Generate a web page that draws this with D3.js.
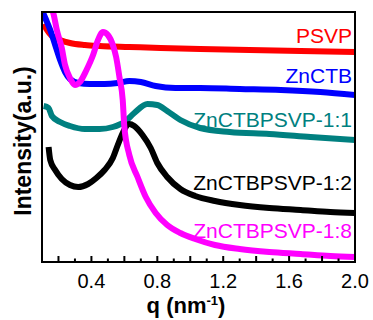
<!DOCTYPE html>
<html>
<head>
<meta charset="utf-8">
<script src="https://cdn.jsdelivr.net/npm/d3@7"></script>
<style>
  html, body { margin: 0; padding: 0; background: #fff; }
  svg { display: block; font-family: Arial, "Liberation Sans", sans-serif; }
</style>
</head>
<body>
<div id="chart"></div>
<script>
// q (nm^-1) vs intensity (a.u.)
const psvpQ = [0.11, 0.13, 0.16, 0.21, 0.27, 0.36, 0.45, 0.63, 0.82, 1.06, 1.36, 1.67, 2.0];
const psvpI = [95.2, 92.8, 90.4, 88.8, 87.6, 86.8, 86.4, 86.0, 85.6, 85.2, 84.8, 84.4, 84.0];

const zctbQ = [0.10, 0.12, 0.15, 0.18, 0.21, 0.24, 0.27, 0.32, 0.39, 0.48, 0.56, 0.63, 0.70, 0.79, 0.91, 1.06, 1.30, 1.55, 1.79, 2.0];
const zctbI = [100.8, 97.6, 92.8, 86.8, 80.8, 76.0, 73.2, 71.6, 71.2, 71.2, 71.6, 72.4, 72.0, 70.4, 69.6, 69.6, 69.2, 68.8, 68.0, 66.8];

const mix11Q = [0.11, 0.14, 0.16, 0.21, 0.27, 0.36, 0.45, 0.53, 0.60, 0.66, 0.74, 0.80, 0.86, 0.94, 1.06, 1.24, 1.48, 1.73, 2.0];
const mix11I = [62.4, 61.6, 58.4, 56.0, 54.4, 53.2, 53.2, 54.0, 56.0, 59.6, 63.2, 62.8, 60.4, 56.8, 53.6, 52.0, 51.2, 50.0, 48.8];

const mix12Q = [0.14, 0.15, 0.18, 0.22, 0.27, 0.32, 0.38, 0.43, 0.48, 0.53, 0.56, 0.59, 0.63, 0.66, 0.71, 0.76, 0.80, 0.86, 0.94, 1.03, 1.15, 1.30, 1.48, 1.67, 1.85, 2.0];
const mix12I = [46.0, 40.8, 36.8, 33.2, 30.8, 30.0, 31.2, 33.6, 36.8, 41.6, 46.8, 51.6, 55.2, 54.4, 50.8, 45.6, 39.6, 34.0, 29.2, 26.4, 24.4, 22.8, 21.6, 20.8, 20.0, 19.6];

const mix18Q = [0.15, 0.17, 0.19, 0.22, 0.24, 0.27, 0.30, 0.33, 0.37, 0.41, 0.44, 0.47, 0.50, 0.53, 0.55, 0.57, 0.59, 0.60, 0.63, 0.68, 0.73, 0.79, 0.86, 0.94, 1.03, 1.15, 1.30, 1.48, 1.67, 1.85, 2.0];
const mix18I = [102.8, 99.2, 92.8, 85.6, 78.8, 73.6, 70.8, 72.0, 76.8, 82.8, 88.8, 92.0, 90.8, 86.8, 82.0, 74.0, 64.8, 54.0, 42.8, 34.0, 26.0, 19.6, 14.8, 11.6, 9.2, 6.8, 5.2, 4.0, 3.2, 2.4, 2.0];

const seriesNames = ['PSVP', 'ZnCTB', 'ZnCTBPSVP-1:1', 'ZnCTBPSVP-1:2', 'ZnCTBPSVP-1:8'];
const seriesColors = ['#ff0000', '#0000ff', '#008080', '#000000', '#ff00ff'];
const seriesQ = [psvpQ, zctbQ, mix11Q, mix12Q, mix18Q];
const seriesI = [psvpI, zctbI, mix11I, mix12I, mix18I];
// label baseline heights, in intensity units
const labelI = [87.6, 71.6, 54.0, 28.8, 9.6];

const xTickLabels = [0.4, 0.8, 1.2, 1.6, 2.0];
const xTicksAll = [0.2, 0.3, 0.4, 0.5, 0.6, 0.7, 0.8, 0.9, 1.0, 1.1, 1.2, 1.3, 1.4, 1.5, 1.6, 1.7, 1.8, 1.9];

const W = 373, H = 320;
const PLOT = { left: 42, right: 355, top: 12, bottom: 262 };

const svg = d3.select('#chart').append('svg')
  .attr('width', W)
  .attr('height', H);

const x = d3.scaleLinear().domain([0.1, 2.0]).range([PLOT.left, PLOT.right]);
const y = d3.scaleLinear().domain([0, 100]).range([PLOT.bottom, PLOT.top]);

svg.append('clipPath').attr('id', 'plot-clip')
  .append('rect')
  .attr('x', PLOT.left).attr('y', PLOT.top)
  .attr('width', PLOT.right - PLOT.left)
  .attr('height', PLOT.bottom - PLOT.top);

// Curves
const line = d3.line()
  .x(d => x(d[0]))
  .y(d => y(d[1]))
  .curve(d3.curveMonotoneX);

const curves = svg.append('g').attr('clip-path', 'url(#plot-clip)');
seriesNames.forEach((name, i) => {
  const pts = seriesQ[i].map((q, k) => [q, seriesI[i][k]]);
  curves.append('path')
    .datum(pts)
    .attr('fill', 'none')
    .attr('stroke', seriesColors[i])
    .attr('stroke-width', 6)
    .attr('stroke-linejoin', 'round')
    .attr('d', line);
});

// Series labels
seriesNames.forEach((name, i) => {
  svg.append('text')
    .attr('x', 352)
    .attr('y', y(labelI[i]))
    .attr('text-anchor', 'end')
    .attr('font-size', '21px')
    .attr('fill', seriesColors[i])
    .text(name);
});

// Ticks (inward, bottom only)
svg.append('g')
  .selectAll('line')
  .data(xTicksAll)
  .enter()
  .append('line')
  .attr('x1', d => x(d))
  .attr('x2', d => x(d))
  .attr('y1', PLOT.bottom)
  .attr('y2', d => PLOT.bottom - (Math.round(d * 10) % 2 === 0 ? 6 : 3.5))
  .attr('stroke', '#000')
  .attr('stroke-width', 2);

svg.append('g')
  .selectAll('text')
  .data(xTickLabels)
  .enter()
  .append('text')
  .attr('x', d => x(d))
  .attr('y', 288)
  .attr('text-anchor', 'middle')
  .attr('font-size', '20px')
  .text(d => d3.format('.1f')(d));

// Frame
svg.append('rect')
  .attr('x', PLOT.left)
  .attr('y', PLOT.top)
  .attr('width', PLOT.right - PLOT.left)
  .attr('height', PLOT.bottom - PLOT.top)
  .attr('fill', 'none')
  .attr('stroke', '#000')
  .attr('stroke-width', 2);

// Axis titles
const xt = svg.append('text')
  .attr('x', 186)
  .attr('y', 313)
  .attr('text-anchor', 'middle')
  .attr('font-size', '22px')
  .attr('font-weight', 'bold');
xt.append('tspan').text('q (nm');
xt.append('tspan').attr('font-size', '13px').attr('dy', -8).text('-1');
xt.append('tspan').attr('dy', 8).text(')');

svg.append('text')
  .attr('transform', 'translate(31,141) rotate(-90)')
  .attr('text-anchor', 'middle')
  .attr('font-size', '23px')
  .attr('font-weight', 'bold')
  .text('Intensity(a.u.)');
</script>
</body>
</html>
